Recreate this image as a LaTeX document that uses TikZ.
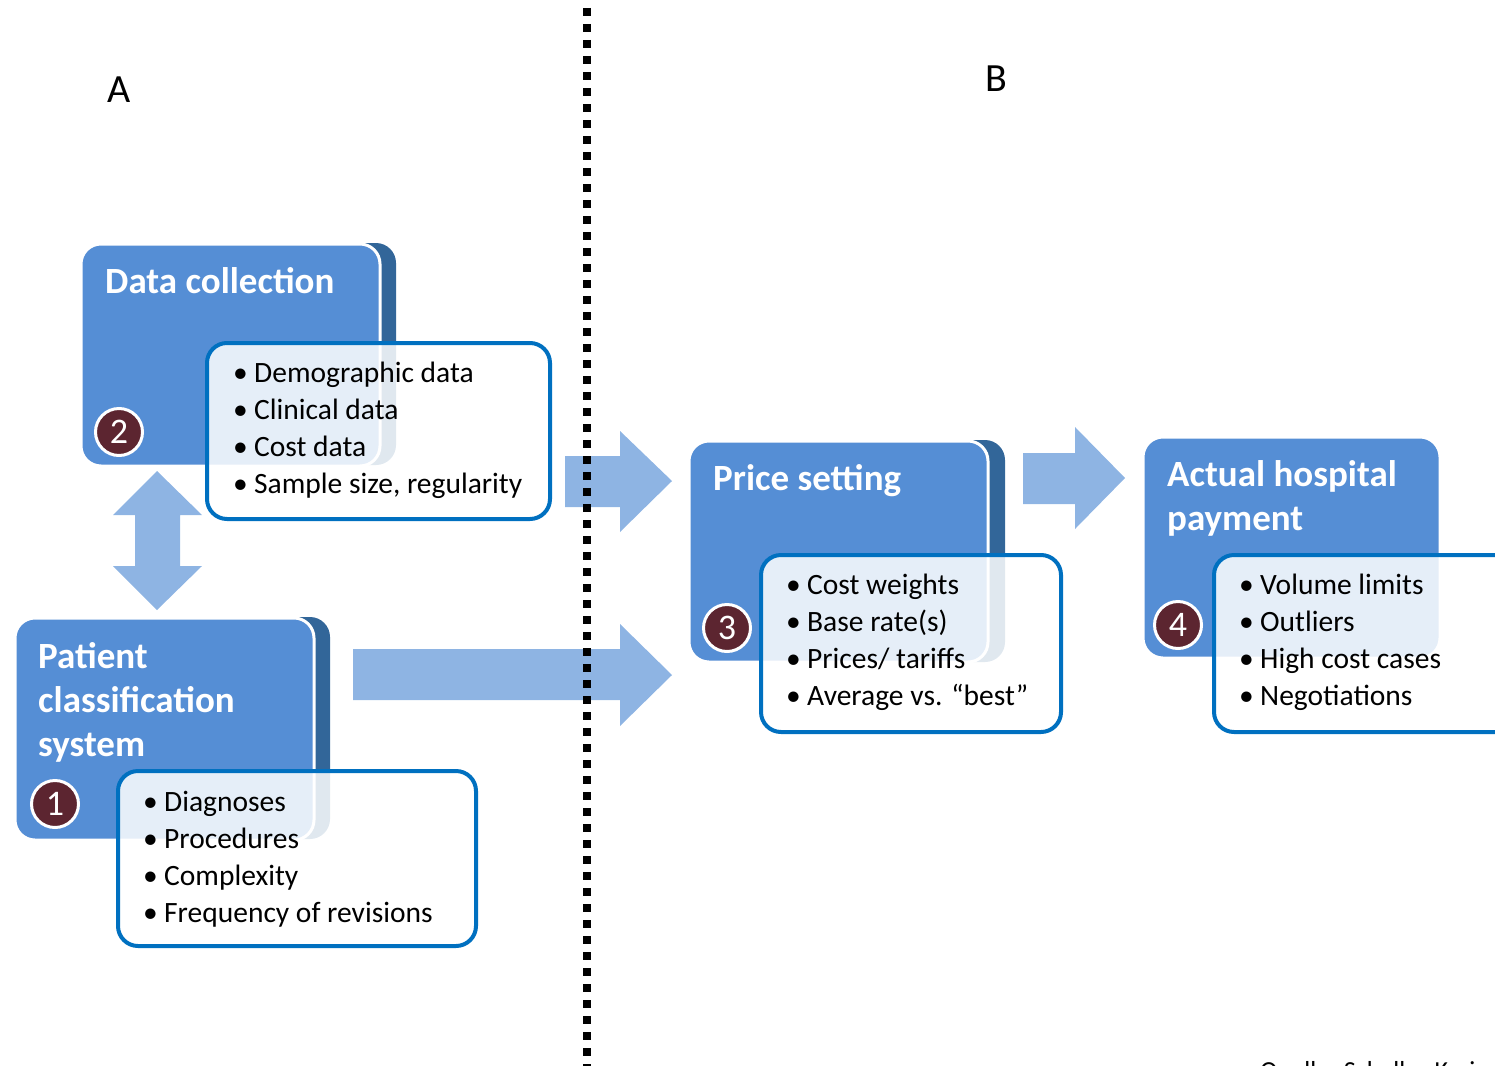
\documentclass[tikz,border=0pt]{standalone}
\usepackage{fontspec}
\setmainfont{Carlito}
\definecolor{cBlue}{RGB}{85,142,213}
\definecolor{cShadow}{RGB}{50,102,153}
\definecolor{cArrow}{RGB}{142,180,227}
\definecolor{cBorder}{RGB}{0,112,192}
\definecolor{cMaroon}{RGB}{92,37,48}
\newcommand\bul{\makebox[21pt][l]{•}}
\begin{document}
\begin{tikzpicture}[x=1pt,y=-1pt,
  shadowbox/.style={fill=cShadow, rounded corners=20pt, anchor=north west, inner sep=0pt, outer sep=0pt},
  bluebox/.style={fill=cBlue, draw=white, line width=3pt, rounded corners=20pt, anchor=north west, inner sep=0pt, outer sep=0pt},
  listbox/.style={fill=white, fill opacity=0.85, draw=cBorder, draw opacity=1, line width=4pt, rounded corners=20pt, anchor=north west, inner sep=0pt, outer sep=0pt},
  blockarrow/.style={fill=cArrow},
  title/.style={anchor=base west, inner sep=0pt, text=white, font=\fontsize{37}{44}\selectfont\bfseries},
  listtext/.style={anchor=base west, inner sep=0pt, text=black, font=\fontsize{29.5}{37}\selectfont},
  numcirc/.style={circle, fill=cMaroon, draw=white, line width=3pt, minimum size=47pt, inner sep=0pt, text=white, font=\fontsize{36}{36}\selectfont},
  sectlabel/.style={inner sep=0pt, font=\fontsize{40}{40}\selectfont},
  divider/.style={line width=8pt, dash pattern=on 8pt off 8pt}
]
\useasboundingbox (0,0) rectangle (1495,1065);
\clip (0,0) rectangle (1495,1065);

% section labels
\node[sectlabel] (la) at (119,90) {A};
\node[sectlabel] (lb) at (996,79) {B};

% shadows
\node[shadowbox, minimum width=299pt, minimum height=222pt] (s2) at (97,243) {};
\node[shadowbox, minimum width=299pt, minimum height=222pt] (s1) at (31,617) {};
\node[shadowbox, minimum width=299pt, minimum height=222pt] (s3) at (706,440) {};

% blue boxes
\node[bluebox, minimum width=299pt, minimum height=222pt] (b2) at (81,244) {};
\node[bluebox, minimum width=299pt, minimum height=222pt] (b1) at (15,618) {};
\node[bluebox, minimum width=299pt, minimum height=221pt] (b3) at (689,441) {};
\node[bluebox, minimum width=297pt, minimum height=221pt] (b4) at (1143,437) {};

% block arrows
\fill[blockarrow] (157,471) -- (202,515) -- (180,515) -- (180,566) -- (202,566) -- (157,610)
  -- (113,566) -- (135,566) -- (135,515) -- (113,515) -- cycle;
\fill[blockarrow] (565,456) -- (620,456) -- (620,431) -- (672,481) -- (620,532) -- (620,507) -- (565,507) -- cycle;
\fill[blockarrow] (353,649) -- (620,649) -- (620,624) -- (672,675) -- (620,726) -- (620,700) -- (353,700) -- cycle;
\fill[blockarrow] (1023,453) -- (1075,453) -- (1075,427) -- (1125,478) -- (1075,529) -- (1075,504) -- (1023,504) -- cycle;

% divider
\coordinate (dtop) at (587,8);
\coordinate (dbot) at (587,1070);
\draw[divider] (dtop) -- (dbot);

% list boxes
\node[listbox, minimum width=343pt, minimum height=176pt] (l2) at (207,343) {};
\node[listbox, minimum width=358pt, minimum height=175pt] (l1) at (118,771) {};
\node[listbox, minimum width=300pt, minimum height=177pt] (l3) at (761,555) {};
\node[listbox, minimum width=320pt, minimum height=177pt] (l4) at (1214,555) {};

% titles
\node[title] (t2) at (105,293) {Data collection};
\node[title] (t1) at (38,668) {\begin{tabular}[t]{@{}l@{}}Patient\\classification\\system\end{tabular}};
\node[title] (t3) at (713,490) {Price setting};
\node[title] (t4) at (1167,486) {\begin{tabular}[t]{@{}l@{}}Actual hospital\\payment\end{tabular}};

% lists
\node[listtext] (x2) at (233,382) {\begin{tabular}[t]{@{}l@{}}\bul Demographic data\\\bul Clinical data\\\bul Cost data\\\bul Sample size, regularity\end{tabular}};
\node[listtext] (x1) at (143,811) {\begin{tabular}[t]{@{}l@{}}\bul Diagnoses\\\bul Procedures\\\bul Complexity\\\bul Frequency of revisions\end{tabular}};
\node[listtext] (x3) at (786,594) {\begin{tabular}[t]{@{}l@{}}\bul Cost weights\\\bul Base rate(s)\\\bul Prices/ tariffs\\\bul Average vs. “best”\end{tabular}};
\node[listtext] (x4) at (1239,594) {\begin{tabular}[t]{@{}l@{}}\bul Volume limits\\\bul Outliers\\\bul High cost cases\\\bul Negotiations\end{tabular}};

% number circles
\node[numcirc] (n1) at (55,804) {1};
\node[numcirc] (n2) at (119,432) {2};
\node[numcirc] (n3) at (727,628) {3};
\node[numcirc] (n4) at (1178,625) {4};

% source (cut by the page edge, as in the reference)
\node[anchor=base west, inner sep=0pt, font=\fontsize{26}{30}\selectfont] (src) at (1260,1079) {Quelle: Scheller-Kreinsen};
\end{tikzpicture}
\end{document}
